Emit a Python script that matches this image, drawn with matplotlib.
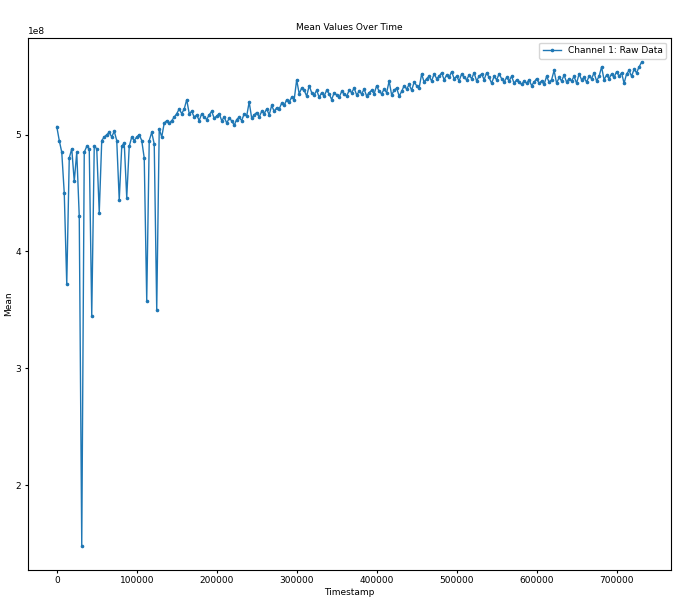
import numpy as np
import matplotlib
matplotlib.use("Agg")
import matplotlib.pyplot as plt

step = 3125
mean_e8 = [
5.07,4.95,4.85,4.50,3.72,4.80,4.88,4.60,4.85,4.30,1.48,4.85,4.90,4.88,3.45,4.90,4.88,4.33,4.95,4.98,
5.00,5.02,4.98,5.03,4.95,4.44,4.90,4.93,4.46,4.90,4.98,4.95,4.98,5.00,4.95,4.80,3.58,4.95,5.02,4.92,
3.50,5.05,4.98,5.10,5.12,5.10,5.12,5.15,5.18,5.22,5.18,5.22,5.30,5.18,5.20,5.15,5.17,5.12,5.18,5.15,
5.13,5.17,5.20,5.14,5.16,5.18,5.12,5.15,5.10,5.14,5.12,5.08,5.13,5.15,5.12,5.18,5.16,5.28,5.14,5.17,
5.19,5.15,5.20,5.18,5.22,5.17,5.25,5.20,5.23,5.22,5.27,5.25,5.30,5.28,5.32,5.30,5.47,5.35,5.40,5.38,
5.33,5.42,5.36,5.34,5.38,5.32,5.36,5.33,5.38,5.35,5.30,5.36,5.34,5.32,5.37,5.35,5.33,5.38,5.36,5.40,
5.34,5.37,5.35,5.39,5.33,5.36,5.38,5.35,5.42,5.37,5.35,5.39,5.36,5.46,5.34,5.38,5.40,5.33,5.37,5.42,
5.39,5.43,5.38,5.45,5.42,5.40,5.52,5.45,5.48,5.50,5.46,5.52,5.48,5.50,5.53,5.47,5.51,5.49,5.54,5.48,
5.50,5.46,5.52,5.49,5.47,5.51,5.48,5.53,5.46,5.50,5.52,5.47,5.53,5.49,5.44,5.50,5.47,5.52,5.48,5.45,
5.49,5.46,5.50,5.44,5.47,5.45,5.43,5.46,5.44,5.47,5.42,5.45,5.48,5.44,5.46,5.43,5.50,5.45,5.47,5.55,
5.44,5.49,5.46,5.51,5.45,5.48,5.46,5.50,5.44,5.52,5.47,5.49,5.45,5.50,5.48,5.53,5.46,5.50,5.58,5.47,
5.51,5.48,5.52,5.49,5.54,5.50,5.53,5.44,5.52,5.55,5.50,5.56,5.53,5.58,5.62,
]
timestamps = np.arange(len(mean_e8)) * step
values = np.array(mean_e8) * 1e8

fig, ax = plt.subplots(figsize=(6.88, 6.05), dpi=100)
fs = 6.5
ax.plot(timestamps, values, marker='o', markersize=1.6, linewidth=1, color='#1f77b4', label='Channel 1: Raw Data')
ax.set_title('Mean Values Over Time', fontsize=fs)
ax.set_xlabel('Timestamp', fontsize=fs, labelpad=2)
ax.set_ylabel('Mean', fontsize=fs, labelpad=2)
ax.tick_params(labelsize=fs, length=2.5, pad=2)
ax.yaxis.get_offset_text().set_fontsize(fs)
ax.legend(fontsize=fs, loc='upper right')
fig.subplots_adjust(left=0.04, right=0.975, top=0.937, bottom=0.058)
fig.savefig('out.png')
